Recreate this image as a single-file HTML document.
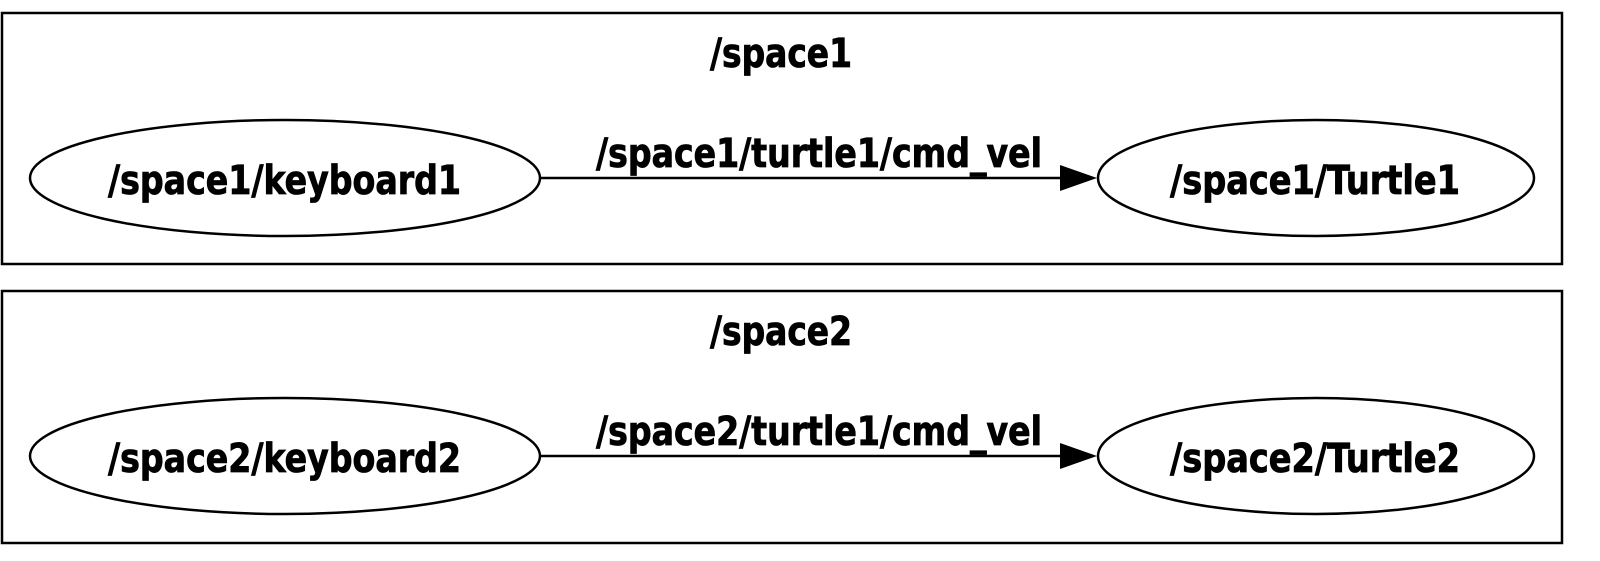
<!DOCTYPE html>
<html><head><meta charset="utf-8"><style>
html,body{margin:0;padding:0;background:#fff;width:1600px;height:561px;overflow:hidden}
text{font-family:"DejaVu Sans Condensed","DejaVu Sans","Liberation Sans",sans-serif;font-weight:bold;font-stretch:condensed;font-size:40px;fill:#000;stroke:#000;stroke-width:0.8}
</style></head><body>
<svg width="1600" height="561" viewBox="0 0 1600 561" xmlns="http://www.w3.org/2000/svg">
<g fill="none" stroke="#000" stroke-width="2.5">
<rect x="2" y="13" width="1560" height="251"/>
<rect x="2" y="291" width="1560" height="252"/>
<ellipse cx="285" cy="178" rx="255" ry="58"/>
<ellipse cx="1316" cy="178" rx="218" ry="58"/>
<ellipse cx="285" cy="456" rx="255" ry="58"/>
<ellipse cx="1316" cy="456" rx="218" ry="58"/>
<line x1="540" y1="178" x2="1062" y2="178"/>
<line x1="540" y1="456" x2="1062" y2="456"/>
</g>
<polygon points="1060,165 1097,178 1060,191" fill="#000"/>
<polygon points="1060,443 1097,456 1060,469" fill="#000"/>
<text x="781" y="67" text-anchor="middle" textLength="142" lengthAdjust="spacingAndGlyphs">/space1</text>
<text x="781" y="345" text-anchor="middle" textLength="142" lengthAdjust="spacingAndGlyphs">/space2</text>
<text x="108" y="194" textLength="353" lengthAdjust="spacingAndGlyphs">/space1/keyboard1</text>
<text x="108" y="472" textLength="353" lengthAdjust="spacingAndGlyphs">/space2/keyboard2</text>
<text x="1170" y="194" textLength="290" lengthAdjust="spacingAndGlyphs">/space1/Turtle1</text>
<text x="1170" y="472" textLength="290" lengthAdjust="spacingAndGlyphs">/space2/Turtle2</text>
<text x="596" y="167" textLength="446" lengthAdjust="spacingAndGlyphs">/space1/turtle1/cmd_vel</text>
<text x="596" y="445" textLength="446" lengthAdjust="spacingAndGlyphs">/space2/turtle1/cmd_vel</text>
</svg>
</body></html>
